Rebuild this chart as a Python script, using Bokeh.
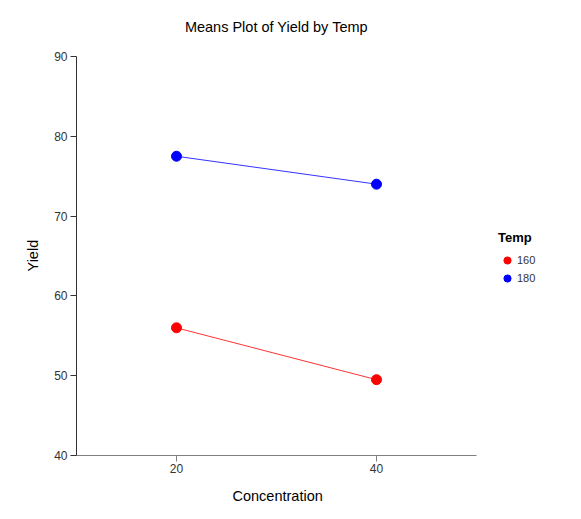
from bokeh.plotting import figure
from bokeh.models import Range1d, FixedTicker, Legend, LegendItem, Title, Label
from bokeh.embed import file_html
from bokeh.resources import INLINE

concentration = [20, 40]
yield_160 = [56.0, 49.5]
yield_180 = [77.5, 74.0]
temps = ["160", "180"]
colors = ["#ff0000", "#0000ff"]
y_ticks = [40, 50, 60, 70, 80, 90]
x_ticks = [20, 40]
x_min, x_max = 10, 50
y_min, y_max = 40, 90

FONT = "Liberation Sans"

# the frame is extended right (legend) and up (title); axes are limited with bounds
FW, FH = 497, 455
AXW, AXH = 400, 399
p = figure(frame_width=FW, frame_height=FH, output_backend="svg", toolbar_location=None,
           x_range=Range1d(x_min, x_min + (x_max - x_min) * FW / AXW),
           y_range=Range1d(y_min, y_min + (y_max - y_min) * FH / AXH),
           min_border_left=76, min_border_right=0, min_border_top=0, min_border_bottom=56)
p.outline_line_color = None
p.grid.grid_line_color = None
p.background_fill_color = "white"
p.border_fill_color = "white"

title = Label(x=(x_min + x_max) / 2, y=y_max + (y_max - y_min) * 30 / AXH,
              text="Means Plot of Yield by Temp", text_align="center", text_baseline="middle",
              text_font=FONT, text_font_size="14.5px", text_color="#000000")
p.add_layout(title)

for ax in (p.xaxis[0], p.yaxis[0]):
    ax.major_label_text_font = FONT
    ax.major_label_text_font_size = "12px"
    ax.major_label_text_color = "#333333"
    ax.minor_tick_line_color = None
    ax.major_tick_in = 0
    ax.major_tick_out = 6

p.xaxis.bounds = (x_min, x_max)
p.yaxis.bounds = (y_min, y_max)
p.xaxis.ticker = FixedTicker(ticks=x_ticks)
p.yaxis.ticker = FixedTicker(ticks=y_ticks)
p.xaxis.axis_line_color = "#808080"
p.xaxis.major_tick_line_color = "#808080"
p.yaxis.axis_line_color = "#333333"
p.yaxis.major_tick_line_color = "#333333"
p.xaxis.major_label_standoff = 2
p.yaxis.major_label_standoff = 3

ylabel = Title(text="Yield", align="left", offset=184,
               text_font=FONT, text_font_size="14.5px", text_font_style="normal",
               text_color="#000000", standoff=22)
p.add_layout(ylabel, "left")

xlabel = Title(text="Concentration", align="left", offset=156,
               text_font=FONT, text_font_size="14.5px", text_font_style="normal",
               text_color="#000000", standoff=21)
p.add_layout(xlabel, "below")

items = []
for ys, col, t in zip([yield_160, yield_180], colors, temps):
    p.line(concentration, ys, line_color=col, line_width=1, line_alpha=0.8)
    r = p.scatter(concentration, ys, size=10, fill_color=col, line_color=col)
    items.append(LegendItem(label=t, renderers=[r]))

legend = Legend(items=items, title="Temp", location=(422, 168),
                title_text_font=FONT, title_text_font_size="13px", title_text_font_style="bold",
                title_text_color="#000000", title_standoff=6,
                label_text_font=FONT, label_text_font_size="11px", label_text_color="#333333",
                border_line_color=None, background_fill_alpha=0,
                glyph_width=18, glyph_height=18, label_height=18, label_standoff=1,
                spacing=0, padding=0, margin=0)
p.add_layout(legend, "center")

open("out.html", "w").write(file_html(p, INLINE))
